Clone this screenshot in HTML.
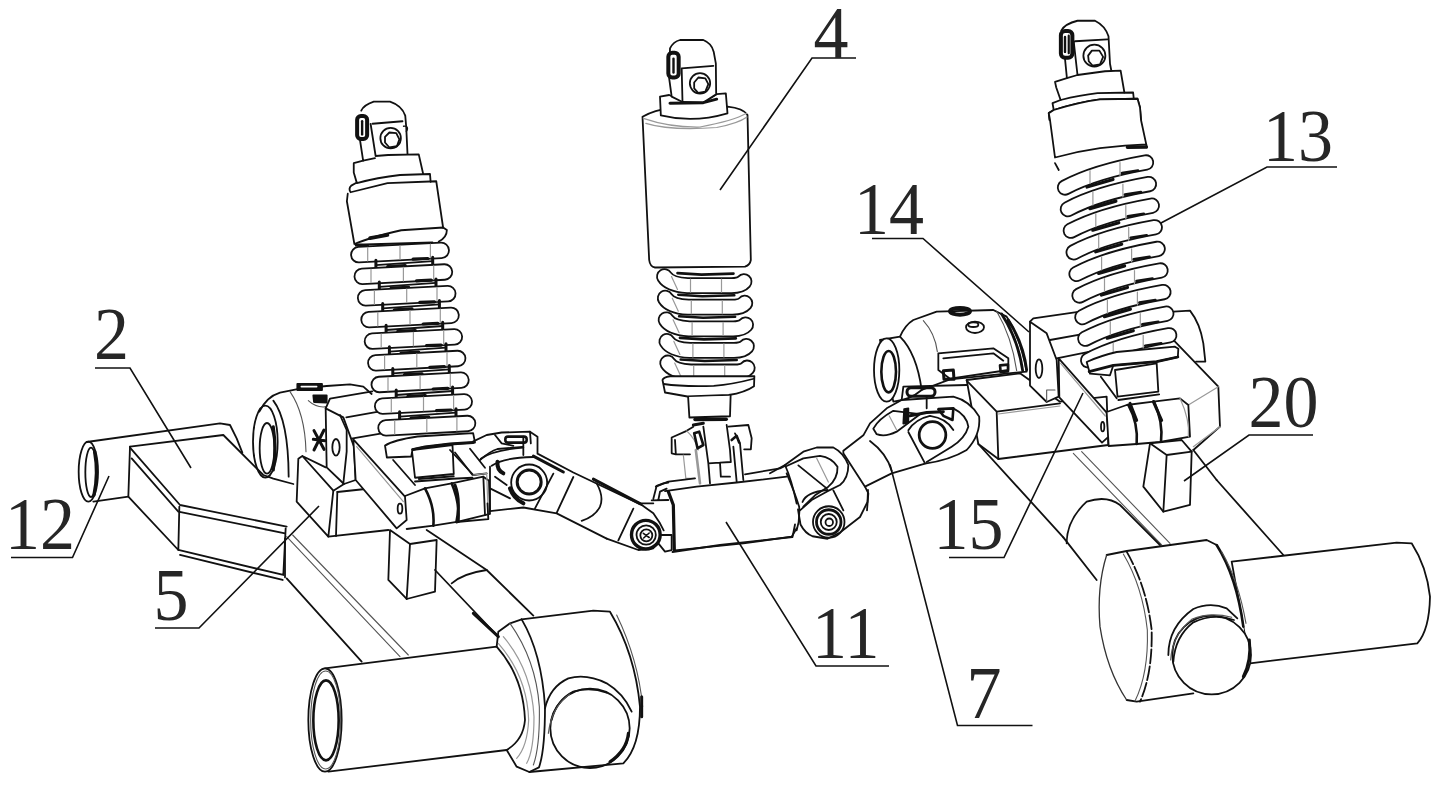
<!DOCTYPE html>
<html lang="en">
<head>
<meta charset="utf-8">
<title>Suspension assembly figure</title>
<style>
html,body{margin:0;padding:0;background:#fff;}
body{width:1440px;height:785px;overflow:hidden;font-family:"Liberation Serif",serif;}
svg{display:block;position:absolute;left:0;top:0;}
svg *{vector-effect:non-scaling-stroke;}
.k{vector-effect:non-scaling-stroke;fill:none;stroke:#111;stroke-width:1.8;stroke-linecap:round;stroke-linejoin:round;}
.w{vector-effect:non-scaling-stroke;fill:#fff;stroke:#111;stroke-width:1.8;stroke-linecap:round;stroke-linejoin:round;}
.t{vector-effect:non-scaling-stroke;fill:none;stroke:#555;stroke-width:1.1;stroke-linecap:round;stroke-linejoin:round;}
.g{vector-effect:non-scaling-stroke;fill:none;stroke:#999;stroke-width:1.2;stroke-linecap:round;stroke-linejoin:round;}
.b{vector-effect:non-scaling-stroke;fill:none;stroke:#000;stroke-width:3;stroke-linecap:round;stroke-linejoin:round;}
.ld{fill:none;stroke:#111;stroke-width:1.6;stroke-linecap:butt;stroke-linejoin:miter;}
.n{font-family:"Liberation Serif",serif;font-size:70px;fill:#262626;}
</style>
</head>
<body>
<svg width="1440" height="785" viewBox="0 0 1440 785">
<rect x="0" y="0" width="1440" height="785" fill="#fff"/>

<!-- ===== DRAWING ===== -->
<g id="drawing">
<!-- right arm upper (3x tile @860,290) -->
<g transform="translate(860,290) scale(.33333)" class="k">
<!-- bushing 14 -->
<path class="w" d="M60 150L120 140Q135 105 160 90L230 65L400 60L440 80Q480 140 500 245L445 250L270 268L185 300Q150 330 100 335Z"/>
<ellipse class="w" cx="80" cy="240" rx="38" ry="95"/>
<ellipse cx="86" cy="245" rx="22" ry="62" style="stroke-width:2.6"/>
<path d="M120 140Q170 190 185 300"/>
<path class="t" d="M190 92Q225 130 232 185M410 64Q455 140 470 242"/>
<path d="M425 72Q475 150 488 242M445 90Q490 160 500 240" style="stroke-width:2.8"/>
<path d="M235 190L400 175L445 205L445 240L270 266L235 240Z"/>
<path d="M250 205L400 190L430 212"/>
<path d="M250 242L280 240L282 268L252 268Z" style="stroke-width:3"/>
<path d="M420 226L444 224L444 244L422 246Z" style="stroke-width:2.6"/>
<ellipse cx="300" cy="64" rx="30" ry="10" style="stroke-width:4"/>
<ellipse cx="345" cy="112" rx="27" ry="17" />
<ellipse cx="340" cy="104" rx="15" ry="7" />
<!-- block 15 -->
<path class="w" d="M320 270L480 250L600 335L740 320L745 465L415 507L355 462Z"/>
<path d="M320 272L410 365L415 507M410 365L600 340"/>
<path class="g" d="M415 372L600 348"/>
<!-- plate with hole + box top -->
<path d="M510 95L520 85L660 65M570 150L680 130M590 205L690 185"/>
<path class="w" d="M510 95L560 130L590 210L596 320L560 336L510 287Z"/>
<ellipse cx="537" cy="236" rx="10" ry="28"/>
<path d="M560 336L560 300L585 300" class="t"/>
<!-- clamp bar -->
<path class="w" d="M596 205L740 368L746 440L726 458L598 322Z"/>
<path class="g" d="M602 220L736 378"/>
<ellipse cx="728" cy="410" rx="5" ry="14"/>
<!-- right box + bump -->
<path d="M940 65L990 62Q1020 100 1030 160L1036 215L1008 215"/>
<path d="M940 150L1075 290L1080 410L1000 480"/>
<path class="g" d="M1075 290L985 345M1080 410L1000 470"/>
<!-- clamp -->
<path class="w" d="M740 366L800 345L880 335L960 325L985 345L990 440L900 456L830 462L746 468Z"/>
<path d="M805 345Q835 400 830 462M882 335Q910 395 903 456" style="stroke-width:2.6"/>
<path class="g" d="M960 325Q990 390 985 440"/>
<!-- block 20 -->
<path class="w" d="M870 460L965 450L995 485L990 645L910 665L850 590Z"/>
<path d="M870 460L920 495L995 485M920 495L910 665"/>
<!-- arm beams -->
<path d="M355 462L610 742M1000 480L1070 570"/>
<path class="t" d="M640 490L905 765M665 485L930 760"/>
</g>
<!-- right arm lower: hub + tube (3x tile @960,480) -->
<g transform="translate(960,480) scale(.33333)" class="k">
<path d="M310 172L410 300"/>
<path d="M320 190Q320 120 380 65Q440 45 480 75L600 195"/>
<path d="M770 0L970 225"/>
<!-- tube -->
<path class="w" d="M815 245L1310 188L1355 190Q1400 260 1410 350Q1408 450 1372 490L870 550Z"/>
<!-- hub -->
<path d="M440 225L500 213L740 180L770 195Q830 280 850 440L870 550L700 640L530 665L500 660Q440 570 420 440Q410 320 440 225Z" style="fill:#fff;stroke:none"/>
<path d="M440 225L500 213L740 180L770 195M700 640L530 665L500 660"/>
<path d="M500 660Q440 570 420 440Q410 320 440 225" style="stroke-width:1.3;stroke:#333"/>
<path d="M500 215Q560 320 575 450Q578 580 540 665" style="stroke-dasharray:14 3"/>
<path class="t" d="M490 222Q548 320 562 450Q566 580 525 663"/>
<path d="M770 195Q830 290 850 440" style="stroke-width:2.6"/>
<path class="t" d="M785 215Q835 300 858 430"/>
<circle class="w" cx="755" cy="525" r="118"/>
<path d="M625 525Q625 440 700 387Q750 365 800 385L832 415"/>
<path d="M640 545Q645 470 700 427Q760 398 822 420"/>
<path class="t" d="M632 540Q636 465 695 418Q750 395 815 412"/>
<path d="M868 480Q875 540 850 590" style="stroke-width:3"/>
</g>
<!-- left arm (3x tile @60,380) -->
<g transform="translate(60,380) scale(.33333)" class="k">
<path d="M80 186L480 130L510 135L530 175L547 218"/>
<path d="M100 365L205 350"/>
<ellipse cx="85" cy="275" rx="29" ry="90"/>
<ellipse cx="93" cy="277" rx="17" ry="74"/>
<path d="M104 215Q116 280 102 345" style="stroke-width:3.4"/>
<path d="M210 200L490 165L520 195L610 285L640 296L700 312"/>
<path d="M210 200L205 350L355 510L358 380"/>
<path d="M210 203L360 375L680 440"/>
<path d="M215 235L355 395L675 460"/>
<path d="M355 510L670 585L677 445"/>
<path d="M360 525L668 600"/>
<path d="M598 95Q620 50 660 38L720 26L800 18L870 13L910 20L935 42"/>
<ellipse cx="616" cy="185" rx="37" ry="108"/>
<ellipse cx="621" cy="205" rx="22" ry="76"/>
<path d="M640 140Q650 205 640 270" style="stroke-width:3"/>
<path d="M640 62Q685 120 686 290"/>
<path class="t" d="M690 35Q735 100 738 215"/>
<path d="M712 12H786V30H712Z" style="fill:#111"/>
<path d="M724 20H770" style="stroke:#fff;stroke-width:1.6"/>
<path d="M760 46L800 46L800 68L762 66Z" style="fill:#111"/>
<path d="M745 62Q770 85 800 80" class="t"/>
<path d="M797 85L810 56L937 34M859 112L960 94M874 176L979 158"/>
<path class="w" d="M797 85L850 112L882 200L887 300L852 312L800 262Z"/>
<path d="M840 105L860 150L860 215L850 310"/>
<ellipse cx="828" cy="202" rx="11" ry="25"/>
<path d="M762 152L792 208M792 150L762 210M760 178L795 182" style="stroke-width:3"/>
<path d="M797 262L727 228L715 236L710 365L805 470L820 332L727 228"/>
<path d="M832 336L828 468"/>
<path d="M805 470L985 450"/>
<path d="M820 332L852 312"/>
<path d="M832 336L1000 318"/>
<path class="w" d="M880 178L1035 350L1040 420L1010 445L887 300Z"/>
<path class="g" d="M890 200L1030 365"/>
<ellipse cx="1020" cy="386" rx="7" ry="15"/>
<path d="M1035 348L1095 325L1175 310L1270 290L1287 302L1290 402L1195 425L1120 437L1040 447"/>
<path d="M1095 325Q1125 380 1120 437M1175 310Q1200 370 1195 425" style="stroke-width:2.6"/>
<path d="M1270 290L1275 405"/>
<path class="w" d="M990 450L985 600L1040 657L1125 635L1130 480L1050 492Z"/>
<path d="M1050 492L1040 657"/>
</g>
<!-- left arm lower: beam + tube + hub (3x tile @240,520) -->
<g transform="translate(240,520) scale(.33333)" class="k">
<path d="M135 55L135 172"/>
<path d="M140 175L365 425"/>
<path class="t" d="M140 50L480 410M158 45L505 405"/>
<path d="M560 30L740 150L880 287"/>
<path d="M585 150L770 345" />
<path d="M700 280L775 350" style="stroke-width:3"/>
<path d="M635 190Q670 160 740 150"/>
<path class="w" d="M255 445L770 380Q850 470 855 600Q850 660 800 690L265 755Z"/>
<ellipse class="w" cx="255" cy="600" rx="50" ry="155"/>
<ellipse class="t" cx="257" cy="600" rx="45" ry="147"/>
<ellipse cx="258" cy="601" rx="38" ry="120" style="stroke-width:2.6"/>
<path d="M770 380L775 335L810 310L845 298"/>
<path d="M845 298Q905 400 915 560Q915 690 897 742L868 756L830 740L800 690"/>
<path class="t" d="M810 310Q888 420 898 560Q900 680 880 735"/>
<path class="g" d="M790 350Q875 450 882 590Q882 690 860 730M775 370Q862 470 866 600Q862 680 830 715"/>
<path d="M845 298L1060 272L1110 275Q1185 400 1200 560Q1200 680 1150 730L868 756"/>
<path class="t" d="M1130 285Q1195 420 1208 560"/>
<path d="M1205 530L1205 590" style="stroke-width:3"/>
<path d="M915 565Q930 500 985 475Q1040 460 1100 490Q1150 520 1175 575"/>
<circle cx="1050" cy="625" r="119"/>
<path d="M935 600Q950 540 1000 515Q1050 500 1100 518" />
<path class="t" d="M925 640Q935 560 990 522"/>
<path d="M1165 640Q1160 690 1110 725" style="stroke-width:3"/>
</g>
<!-- left shock: top eye + collars (8x tile @320,90) -->
<g transform="translate(320,90) scale(.125)" class="k">
<path d="M330 165Q350 120 430 93L560 93Q655 125 682 205L690 300L700 512" />
<path d="M420 270L660 250" />
<path d="M405 272L445 528L545 520L790 515L825 670" />
<path d="M320 400L345 565L440 545" />
<path d="M345 565L270 585L270 660L295 745Q460 700 640 680L880 672L885 735" />
<rect x="297" y="208" width="80" height="184" rx="30" style="fill:#fff;stroke-width:4"/>
<path d="M337 250V355" style="stroke-width:2.4"/>
<circle cx="565" cy="385" r="82"/>
<path d="M520 375L555 340L610 345L635 395L615 450L555 460L520 420Z"/>
<path d="M668 290Q700 285 700 310Q698 330 690 330" style="stroke-width:1.3"/>
</g>
<!-- left shock: cup (8x tile @320,170) -->
<g transform="translate(320,170) scale(.125)" class="k">
<path d="M295 100L250 125Q225 150 245 178L540 105L930 90L985 462" />
<path d="M222 190L215 250L275 592Q400 540 650 482L985 460L1015 480Q1015 540 950 572" />
<path d="M290 598L560 590L900 580" />
<path d="M400 545L540 520" style="stroke-width:3.6"/>
<path d="M290 600L380 605" style="stroke-width:3"/>
</g>
<!-- left spring -->
<g id="springL">
<rect class="w" x="351.0" y="244.8" width="98.0" height="15.5" rx="7.75" transform="rotate(-3 400.0 252.5)"/>
<path class="g" d="M367.7 247.4V260.9M400.0 245.8V259.2M430.4 244.2V257.7"/>
<path class="k" d="M375.9 260.2V269.4M432.7 257.2V266.4" style="stroke-width:3"/>
<path class="k" d="M375.9 265.1L432.7 261.1" style="stroke-width:1.8"/>
<path class="k" d="M387.7 266.5L405.3 265.6M413.1 259.1L427.8 258.5" style="stroke-width:3.2"/>
<rect class="w" x="354.4" y="266.4" width="97.9" height="15.5" rx="7.75" transform="rotate(-3 403.4 274.1)"/>
<path class="g" d="M371.0 269.1V282.6M403.4 267.4V280.9M433.7 265.8V279.3"/>
<path class="k" d="M379.3 281.9V291.0M436.0 278.9V288.0" style="stroke-width:3"/>
<path class="k" d="M379.3 286.8L436.0 282.8" style="stroke-width:1.8"/>
<path class="k" d="M391.1 288.2L408.7 287.3M416.5 280.8L431.2 280.2" style="stroke-width:3.2"/>
<rect class="w" x="357.8" y="288.0" width="97.8" height="15.5" rx="7.75" transform="rotate(-3 406.7 295.8)"/>
<path class="g" d="M374.4 290.7V304.2M406.7 289.0V302.5M437.0 287.4V300.9"/>
<path class="k" d="M382.7 303.5V312.7M439.4 300.5V309.7" style="stroke-width:3"/>
<path class="k" d="M382.7 308.4L439.4 304.4" style="stroke-width:1.8"/>
<path class="k" d="M394.4 309.8L412.0 308.9M419.8 302.4L434.5 301.8" style="stroke-width:3.2"/>
<rect class="w" x="361.2" y="309.7" width="97.7" height="15.5" rx="7.75" transform="rotate(-3 410.0 317.4)"/>
<path class="g" d="M377.8 312.4V325.9M410.0 310.7V324.2M440.3 309.1V322.6"/>
<path class="k" d="M386.1 325.2V334.3M442.7 322.2V331.3" style="stroke-width:3"/>
<path class="k" d="M386.1 330.0L442.7 326.0" style="stroke-width:1.8"/>
<path class="k" d="M397.8 331.4L415.4 330.5M423.2 324.0L437.8 323.4" style="stroke-width:3.2"/>
<rect class="w" x="364.6" y="331.3" width="97.6" height="15.5" rx="7.75" transform="rotate(-3 413.4 339.1)"/>
<path class="g" d="M381.2 334.0V347.5M413.4 332.3V345.8M443.7 330.7V344.2"/>
<path class="k" d="M389.4 346.8V355.9M446.0 343.8V352.9" style="stroke-width:3"/>
<path class="k" d="M389.4 351.7L446.0 347.7" style="stroke-width:1.8"/>
<path class="k" d="M401.1 353.1L418.7 352.2M426.5 345.7L441.1 345.1" style="stroke-width:3.2"/>
<rect class="w" x="368.0" y="352.9" width="97.5" height="15.5" rx="7.75" transform="rotate(-3 416.8 360.7)"/>
<path class="g" d="M384.6 355.6V369.1M416.8 353.9V367.4M447.0 352.4V365.9"/>
<path class="k" d="M392.8 368.4V377.6M449.3 365.4V374.6" style="stroke-width:3"/>
<path class="k" d="M392.8 373.3L449.3 369.3" style="stroke-width:1.8"/>
<path class="k" d="M404.5 374.7L422.0 373.8M429.8 367.3L444.4 366.7" style="stroke-width:3.2"/>
<rect class="w" x="371.4" y="374.6" width="97.4" height="15.5" rx="7.75" transform="rotate(-3 420.1 382.3)"/>
<path class="g" d="M388.0 377.3V390.8M420.1 375.6V389.1M450.3 374.0V387.5"/>
<path class="k" d="M396.2 390.1V399.2M452.6 387.1V396.2" style="stroke-width:3"/>
<path class="k" d="M396.2 395.0L452.6 391.0" style="stroke-width:1.8"/>
<path class="k" d="M407.9 396.4L425.4 395.5M433.2 389.0L447.8 388.4" style="stroke-width:3.2"/>
<rect class="w" x="374.8" y="396.2" width="97.3" height="15.5" rx="7.75" transform="rotate(-3 423.5 404.0)"/>
<path class="g" d="M391.3 398.9V412.4M423.5 397.2V410.7M453.6 395.6V409.1"/>
<path class="k" d="M399.6 411.7V420.9M456.0 408.7V417.9" style="stroke-width:3"/>
<path class="k" d="M399.6 416.6L456.0 412.6" style="stroke-width:1.8"/>
<path class="k" d="M411.2 418.0L428.7 417.1M436.5 410.6L451.1 410.0" style="stroke-width:3.2"/>
<rect class="w" x="378.2" y="417.9" width="97.2" height="15.5" rx="7.75" transform="rotate(-3 426.8 425.6)"/>
<path class="g" d="M394.7 420.6V434.1M426.8 418.9V432.4M456.9 417.3V430.8"/>
</g>
<!-- left spring seat + rod (8x tile @360,420) -->
<g transform="translate(360,420) scale(.125)" class="k">
<path class="w" d="M415 240L440 462L750 432L740 200Z"/>
<path d="M470 472L750 450" />
<path class="w" d="M200 205Q270 160 460 132L905 105L920 180L720 192L520 215L420 236L410 292L215 300Z"/>
<path d="M420 236L520 215L720 192L905 180" style="stroke-width:2.8"/>
<path d="M265 320L440 520M880 230L1000 382M760 260L900 440"/>
<path class="g" d="M900 440L1010 430"/>
<path d="M440 492L740 470L900 462"/>
<path d="M960 320Q1040 250 1100 232L1300 215"/>
</g>
<!-- left u-joint + link (6x tile @440,410) -->
<g transform="translate(440,410) scale(.16667)" class="k">
<path d="M200 188L280 150L370 135L540 130L585 160L585 262L800 375L1210 570"/>
<rect x="392" y="160" width="128" height="36" rx="16" style="stroke-width:2.6"/>
<path d="M500 160L500 270M540 130L545 200" />
<path d="M245 292Q320 240 500 226"/>
<path d="M330 150L370 200L440 215"/>
<path d="M560 277L740 372" style="stroke-width:3"/>
<path d="M920 415L1200 562" style="stroke-width:3"/>
<path d="M300 607L500 585L700 620L1000 772"/>
<path d="M680 382L570 590M800 402L700 617M1160 592L1070 782"/>
<path d="M940 440Q985 520 960 580Q930 640 850 665"/>
<path d="M310 335Q380 285 560 282"/>
<path d="M300 340L300 607"/>
<path d="M345 310Q340 360 380 380" style="stroke-width:4"/>
<path d="M300 470L420 530M330 400L400 450" />
<circle cx="535" cy="435" r="108"/>
<circle cx="535" cy="432" r="72" style="stroke-width:3"/>
<path d="M420 470Q440 530 500 560" style="stroke-width:4"/>
<path d="M60 240L200 390L280 380"/>
<path class="g" d="M200 390L280 380L290 650"/>
<path d="M285 560L290 655L100 672"/>
<path d="M90 450Q125 540 100 672" style="stroke-width:3"/>
</g>
<!-- left link end + block 11 left yoke (6x tile @560,450) -->
<g transform="translate(560,450) scale(.16667)" class="k">
<path d="M470 315L560 380L600 440L622 482"/>
<path d="M280 532L470 600L560 590"/>
<path d="M560 292L580 215L620 200L650 195M590 300L600 250L640 232M550 302L650 300M480 320L560 320"/>
<path d="M650 250L680 330L686 602" style="stroke-width:3.2"/>
<path d="M610 510L670 510L670 600L630 610L590 560"/>
<circle cx="515" cy="508" r="86" style="stroke-width:3.4"/>
<circle cx="517" cy="510" r="58"/>
<circle cx="518" cy="512" r="36"/>
<path d="M500 500L535 525M535 498L502 528" style="stroke-width:1.6"/>
<path d="M690 602L1100 560L1390 520L1420 470"/>
</g>
<!-- right link + yokes (6x tile @770,380) -->
<g transform="translate(770,380) scale(.16667)" class="k">
<path class="w" d="M560 332L600 260L700 170L790 120L1100 100Q1200 125 1255 220Q1265 330 1180 420Q1080 480 930 502L730 560L570 640L440 440L440 425Z"/>
<path d="M620 292Q650 235 740 185L900 205L760 310Q690 345 640 325Z"/>
<path class="g" d="M715 215L760 300"/>
<path d="M1100 170Q1180 210 1190 280Q1170 350 1090 400L940 492"/>
<path d="M830 302Q870 235 960 215Q1060 230 1100 300"/>
<circle cx="975" cy="330" r="80" style="stroke-width:2.8"/>
<rect x="822" y="46" width="168" height="52" rx="24" style="stroke-width:3"/>
<path d="M940 100L940 170M790 120L800 40L1180 30"/>
<path d="M805 175L830 170L830 255L800 262Z" style="fill:#111"/>
<path d="M1010 175L1100 170L1095 240L1040 215Z" style="stroke-width:2.6"/>
<path d="M840 215L940 195L1040 190" style="stroke-width:3"/>
<path d="M600 366Q700 440 730 545"/>
<path d="M830 312L930 500"/>
<path d="M570 640L590 680L582 782"/>
<!-- lower-left yoke -->
<path class="w" d="M0 560L90 510L200 430L280 405L380 405Q440 435 470 510Q470 590 420 630L340 670L250 720L180 782L0 782Z" style="stroke:none"/>
<path d="M0 560L90 510L200 430L280 405L380 405Q440 435 470 510Q470 590 420 630L340 670L250 720L180 782"/>
<path d="M100 516L200 470L300 455Q370 465 405 520Q408 590 350 640L270 692L200 760"/>
<path d="M170 512L340 650"/>
<path class="g" d="M280 470L350 612"/>
<path d="M90 510Q130 600 160 742"/>
<path d="M380 662L440 782"/>
</g>
<!-- block 11 right end + lower yoke bolt (4x tile @720,392) -->
<g transform="translate(720,392) scale(.25)" class="k">
<path d="M-190 640L0 612L290 580L300 530"/>
<path d="M312 470L322 530Q340 565 370 577L430 587L480 562L560 500L590 440L592 392"/>
<path d="M330 440Q345 400 430 392"/>
<circle cx="435" cy="520" r="63"/>
<circle cx="435" cy="520" r="49" style="stroke-width:2.8"/>
<circle cx="435" cy="520" r="32"/>
<circle cx="437" cy="521" r="15"/>
</g>
<!-- center shock top + cylinder (6x tile @600,30) -->
<g transform="translate(600,30) scale(.16667)" class="k">
<path class="w" d="M255 520Q330 478 420 470L765 460Q860 470 885 510L905 1380Q900 1410 870 1420L330 1425Q300 1420 295 1380Z"/>
<path class="g" d="M260 530Q420 585 600 582Q800 545 880 500M275 560Q420 605 700 585Q830 560 882 522"/>
<path class="w" d="M360 400L415 390L480 420L620 435L700 385L755 380L765 500Q560 560 365 512Z"/>
<path class="w" d="M420 110Q440 70 480 60L620 60Q670 80 682 130L695 200L697 385L620 435L495 432L430 400L415 290Z"/>
<path d="M490 230L680 215M490 230L495 432"/>
<path d="M420 440L620 436L700 415" style="stroke-width:3"/>
<rect x="410" y="137" width="62" height="148" rx="24" style="fill:#fff;stroke-width:4"/>
<path d="M441 172V255" style="stroke-width:2.4"/>
<circle cx="600" cy="320" r="61"/>
<path d="M565 315L590 285L632 290L650 325L632 370L590 378L565 350Z"/>
</g>
<!-- center spring -->
<g id="springC" fill="none" stroke-linecap="round" stroke-linejoin="round">
<g transform="translate(707.5,285.6)"><path class="k" d="M-30 -12.5L-6 -11L26 -12" style="stroke-width:2.6"/><path d="M-43 -9Q-38 -1 -20 0L24 0Q33 0 36.5 -4" stroke="#111" stroke-width="16.8"/><path d="M-43 -9Q-38 -1 -20 0L24 0Q33 0 36.5 -4" stroke="#fff" stroke-width="13.2"/><path class="g" d="M-17 -6.5V6.5M14 -6.5V6.5M-36 -9L-30 4"/></g>
<g transform="translate(708.3,307.2)"><path class="k" d="M-30 -12.5L-6 -11L26 -12" style="stroke-width:2.6"/><path d="M-43 -9Q-38 -1 -20 0L24 0Q33 0 36.5 -4" stroke="#111" stroke-width="16.8"/><path d="M-43 -9Q-38 -1 -20 0L24 0Q33 0 36.5 -4" stroke="#fff" stroke-width="13.2"/><path class="g" d="M-17 -6.5V6.5M14 -6.5V6.5M-36 -9L-30 4"/></g>
<g transform="translate(709.1,328.8)"><path class="k" d="M-30 -12.5L-6 -11L26 -12" style="stroke-width:2.6"/><path d="M-43 -9Q-38 -1 -20 0L24 0Q33 0 36.5 -4" stroke="#111" stroke-width="16.8"/><path d="M-43 -9Q-38 -1 -20 0L24 0Q33 0 36.5 -4" stroke="#fff" stroke-width="13.2"/><path class="g" d="M-17 -6.5V6.5M14 -6.5V6.5M-36 -9L-30 4"/></g>
<g transform="translate(709.9,350.4)"><path class="k" d="M-30 -12.5L-6 -11L26 -12" style="stroke-width:2.6"/><path d="M-43 -9Q-38 -1 -20 0L24 0Q33 0 36.5 -4" stroke="#111" stroke-width="16.8"/><path d="M-43 -9Q-38 -1 -20 0L24 0Q33 0 36.5 -4" stroke="#fff" stroke-width="13.2"/><path class="g" d="M-17 -6.5V6.5M14 -6.5V6.5M-36 -9L-30 4"/></g>
<g transform="translate(710.7,372.0)"><path class="k" d="M-30 -12.5L-6 -11L26 -12" style="stroke-width:2.6"/><path d="M-43 -9Q-38 -1 -20 0L24 0Q33 0 36.5 -4" stroke="#111" stroke-width="16.8"/><path d="M-43 -9Q-38 -1 -20 0L24 0Q33 0 36.5 -4" stroke="#fff" stroke-width="13.2"/><path class="g" d="M-17 -6.5V6.5M14 -6.5V6.5M-36 -9L-30 4"/></g>
</g>
<!-- center shock seat + rod (8x tile @620,330) -->
<g transform="translate(620,330) scale(.125)" class="k">
<path class="w" d="M340 400Q345 380 400 370L1075 370L1072 450Q1000 500 870 520L540 532L360 500Z"/>
<path d="M350 432Q500 455 750 447Q900 435 1070 390"/>
<path class="w" d="M545 535L555 700L880 690L885 525"/>
<path d="M600 716L850 714" style="stroke-width:3.4"/>
</g>
<!-- center fork + block 11 (6x tile @620,400) -->
<g transform="translate(620,400) scale(.16667)" class="k">
<path d="M440 160L400 185L310 225L310 320L335 326L420 326M330 240L335 326"/>
<path class="g" d="M380 330L395 470L450 470M400 185Q450 230 470 300"/>
<path class="g" d="M455 300L480 500" style="stroke-width:2.6"/>
<path d="M440 150L500 140" style="stroke-width:3"/>
<path d="M500 160L530 380L540 500M530 380L600 376L605 460L660 460M640 150L660 300L665 372L600 376"/>
<path d="M650 160L770 150L790 230L785 296L745 296M690 200L720 260L740 480M680 280L700 490"/>
<path d="M445 200L475 190L500 270L465 290Z" style="stroke-width:2.6"/>
<path d="M670 240L700 215L715 255" style="stroke-width:2.6"/>
<path d="M270 547L460 520L700 495L1000 460"/>
<path d="M215 520L290 490L450 470M750 446L960 410L990 396"/>
<path d="M1000 440Q1050 560 1075 640Q1080 720 1060 782"/>
</g>
<!-- right shock top (8x tile @1000,20) -->
<g transform="translate(1000,20) scale(.125)" class="k">
<path d="M490 85Q520 30 620 6L760 6Q840 45 868 130L880 350L890 402"/>
<path d="M600 170L860 155M590 175L620 440L840 410L965 405L995 580"/>
<path d="M520 310L535 462"/>
<path d="M620 440L535 465L440 495L450 540L485 640Q640 600 780 585L1065 580L1070 628"/>
<path d="M485 640L420 665L430 720Q620 660 800 635L1100 630L1120 700L1128 800"/>
<path d="M430 720L390 745L395 800"/>
<rect x="487" y="88" width="92" height="214" rx="34" style="fill:#fff;stroke-width:4"/>
<path d="M520 135V255" style="stroke-width:2.4"/>
<path d="M550 125V265" style="stroke-width:2.2"/>
<circle cx="755" cy="285" r="88"/>
<path d="M705 285L735 245L795 245L825 295L800 355L740 365L710 330Z"/>
</g>
<!-- right spring -->
<g id="springR" fill="none" stroke-linecap="round" stroke-linejoin="round">
<path d="M1065.0 187.5Q1095.0 171.5 1146.0 162.5" stroke="#111" stroke-width="16.3"/>
<path d="M1065.0 187.5Q1095.0 171.5 1146.0 162.5" stroke="#fff" stroke-width="12.7"/>
<path class="g" d="M1090.0 170.5V183.5M1120.0 162.5V175.5"/>
<path d="M1067.9 209.1Q1097.9 193.1 1148.9 184.1" stroke="#111" stroke-width="16.3"/>
<path d="M1067.9 209.1Q1097.9 193.1 1148.9 184.1" stroke="#fff" stroke-width="12.7"/>
<path class="g" d="M1092.9 192.1V205.1M1122.9 184.1V197.1"/>
<path d="M1070.8 230.7Q1100.8 214.7 1151.8 205.7" stroke="#111" stroke-width="16.3"/>
<path d="M1070.8 230.7Q1100.8 214.7 1151.8 205.7" stroke="#fff" stroke-width="12.7"/>
<path class="g" d="M1095.8 213.7V226.7M1125.8 205.7V218.7"/>
<path d="M1073.7 252.3Q1103.7 236.3 1154.7 227.3" stroke="#111" stroke-width="16.3"/>
<path d="M1073.7 252.3Q1103.7 236.3 1154.7 227.3" stroke="#fff" stroke-width="12.7"/>
<path class="g" d="M1098.7 235.3V248.3M1128.7 227.3V240.3"/>
<path d="M1076.6 273.9Q1106.6 257.9 1157.6 248.9" stroke="#111" stroke-width="16.3"/>
<path d="M1076.6 273.9Q1106.6 257.9 1157.6 248.9" stroke="#fff" stroke-width="12.7"/>
<path class="g" d="M1101.6 256.9V269.9M1131.6 248.9V261.9"/>
<path d="M1079.5 295.5Q1109.5 279.5 1160.5 270.5" stroke="#111" stroke-width="16.3"/>
<path d="M1079.5 295.5Q1109.5 279.5 1160.5 270.5" stroke="#fff" stroke-width="12.7"/>
<path class="g" d="M1104.5 278.5V291.5M1134.5 270.5V283.5"/>
<path d="M1082.4 317.1Q1112.4 301.1 1163.4 292.1" stroke="#111" stroke-width="16.3"/>
<path d="M1082.4 317.1Q1112.4 301.1 1163.4 292.1" stroke="#fff" stroke-width="12.7"/>
<path class="g" d="M1107.4 300.1V313.1M1137.4 292.1V305.1"/>
<path d="M1085.3 338.7Q1115.3 322.7 1166.3 313.7" stroke="#111" stroke-width="16.3"/>
<path d="M1085.3 338.7Q1115.3 322.7 1166.3 313.7" stroke="#fff" stroke-width="12.7"/>
<path class="g" d="M1110.3 321.7V334.7M1140.3 313.7V326.7"/>
<path d="M1088.2 360.3Q1118.2 344.3 1169.2 335.3" stroke="#111" stroke-width="16.3"/>
<path d="M1088.2 360.3Q1118.2 344.3 1169.2 335.3" stroke="#fff" stroke-width="12.7"/>
<path class="g" d="M1113.2 343.3V356.3M1143.2 335.3V348.3"/>
<path class="k" d="M1087.0 187.0L1113.0 179.5" style="stroke-width:3.2"/>
<path class="k" d="M1122.0 173.0L1138.0 170.5" style="stroke-width:2.6"/>
<path class="k" d="M1089.9 208.6L1115.9 201.1" style="stroke-width:3.2"/>
<path class="k" d="M1124.9 194.6L1140.9 192.1" style="stroke-width:2.6"/>
<path class="k" d="M1092.8 230.2L1118.8 222.7" style="stroke-width:3.2"/>
<path class="k" d="M1127.8 216.2L1143.8 213.7" style="stroke-width:2.6"/>
<path class="k" d="M1095.7 251.8L1121.7 244.3" style="stroke-width:3.2"/>
<path class="k" d="M1130.7 237.8L1146.7 235.3" style="stroke-width:2.6"/>
<path class="k" d="M1098.6 273.4L1124.6 265.9" style="stroke-width:3.2"/>
<path class="k" d="M1133.6 259.4L1149.6 256.9" style="stroke-width:2.6"/>
<path class="k" d="M1101.5 295.0L1127.5 287.5" style="stroke-width:3.2"/>
<path class="k" d="M1136.5 281.0L1152.5 278.5" style="stroke-width:2.6"/>
<path class="k" d="M1104.4 316.6L1130.4 309.1" style="stroke-width:3.2"/>
<path class="k" d="M1139.4 302.6L1155.4 300.1" style="stroke-width:2.6"/>
<path class="k" d="M1107.3 338.2L1133.3 330.7" style="stroke-width:3.2"/>
<path class="k" d="M1142.3 324.2L1158.3 321.7" style="stroke-width:2.6"/>
<path class="k" d="M1110.2 359.8L1136.2 352.3" style="stroke-width:3.2"/>
<path class="k" d="M1145.2 345.8L1161.2 343.3" style="stroke-width:2.6"/>
</g>
<!-- right spring seat + rod (6x tile @1030,290) -->
<g transform="translate(1030,290) scale(.16667)" class="k">
<path class="w" d="M510 480L525 640L770 610L760 440Z"/>
<path d="M530 660L775 626"/>
<path d="M600 680L640 782M740 670L790 782" style="stroke-width:3"/>
<path class="w" d="M340 432Q420 395 520 372L870 340L890 352L887 402L760 430L500 452L480 512L360 502Z"/>
<path d="M355 490L500 452L760 430L887 402" style="stroke-width:2.8"/>
<path d="M425 520L520 650"/>
</g>
<!-- right shock cup (8x tile @1000,100) -->
<g transform="translate(1000,100) scale(.125)" class="k">
<path class="w" d="M390 105L430 80Q620 20 800 -5L1100 -10L1120 60L1128 160L1170 355L1000 365L800 385Q620 410 440 460L400 160Z"/>
<path d="M1170 355L1175 380"/>
<path d="M1020 378L1170 376" style="stroke-width:3.6"/>
<path d="M440 505L470 560"/>
</g>

</g>

<!-- ===== LEADERS ===== -->
<g id="leaders" class="ld">
<path d="M95 368H130L191 468"/>
<path d="M11 557.5H72.5L109 476"/>
<path d="M155 628H199L319 506"/>
<path d="M856 58H812L720 190"/>
<path d="M872 238.5H923L1029 332"/>
<path d="M1337 167H1267L1160 223.5"/>
<path d="M1313 435H1249L1184 481"/>
<path d="M949 557.5H1004L1083 393"/>
<path d="M889 666H816L726 522"/>
<path d="M1032.5 725.5H957.5L890 464.5"/>
</g>

<!-- ===== LABELS ===== -->
<g id="labels" class="n">
<text transform="translate(94,359.0) scale(1,1.045)">2</text>
<text transform="translate(5,548.7) scale(1,1.045)">12</text>
<text transform="translate(153.5,619.7) scale(1,1.045)">5</text>
<text transform="translate(813.5,58.3) scale(1,1.045)">4</text>
<text transform="translate(854,234.0) scale(1,1.045)">14</text>
<text transform="translate(1263,160.7) scale(1,1.045)">13</text>
<text transform="translate(1248.5,426.7) scale(1,1.045)">20</text>
<text transform="translate(933.5,548.7) scale(1,1.045)">15</text>
<text transform="translate(812,657.8) scale(1,1.045)">11</text>
<text transform="translate(966.5,717.8) scale(1,1.045)">7</text>
</g>
</svg>
</body>
</html>
